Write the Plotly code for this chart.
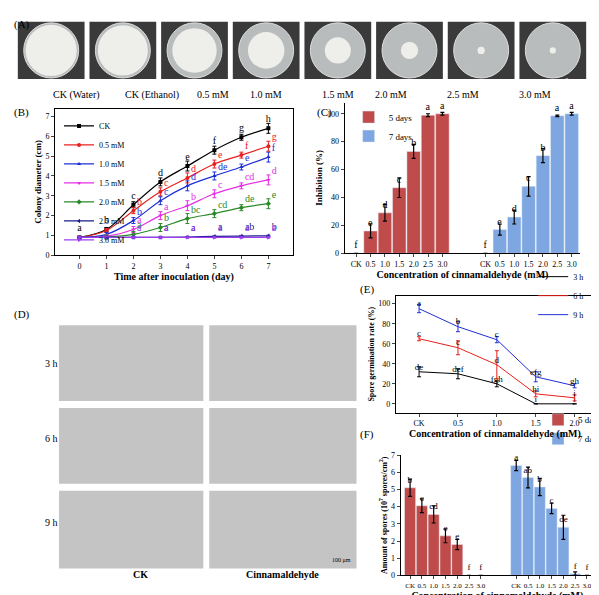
import plotly.graph_objects as go

W, H = 599, 595
FONT = "Liberation Serif"

# ---- data ----
days = [0, 1, 2, 3, 4, 5, 6, 7]
b_names = ["CK", "0.5 mM", "1.0 mM", "1.5 mM", "2.0 mM", "2.5 mM", "3.0 mM"]
b_ck = [0.9, 1.3, 2.55, 3.7, 4.5, 5.3, 5.95, 6.4]
b_05 = [0.9, 1.25, 2.25, 3.2, 3.9, 4.6, 5.05, 5.5]
b_10 = [0.9, 1.05, 1.75, 2.75, 3.5, 4.0, 4.45, 4.95]
b_15 = [0.9, 0.95, 1.3, 2.0, 2.5, 3.1, 3.5, 3.8]
b_20 = [0.9, 0.92, 1.05, 1.4, 1.85, 2.1, 2.4, 2.6]
b_25 = [0.9, 0.9, 0.9, 0.9, 0.92, 0.95, 0.97, 0.98]
b_30 = [0.9, 0.9, 0.9, 0.9, 0.9, 0.9, 0.9, 0.9]
b_err = [0.05, 0.1, 0.15, 0.2, 0.25, 0.2, 0.15, 0.25]
b_letters = [
    ["a", "b", "c", "d", "e", "f", "g", "h"],
    ["", "", "b", "c", "d", "e", "f", "g"],
    ["", "", "b", "c", "d", "de", "e", "f"],
    ["", "", "a", "a", "b", "c", "cd", "d"],
    ["", "", "a", "b", "bc", "cd", "de", "e"],
    ["", "", "", "a", "a", "a", "ab", "b"],
    ["", "", "a", "a", "a", "a", "a", "a"],
]
b_colors = ["black", "#e8201c", "#1f2fd6", "#e62ee6", "#2a8a2a", "#1a1a8c", "#9b3cf0"]
b_symbols = ["square", "circle", "triangle-up", "triangle-down", "diamond", "triangle-left", "triangle-right"]

c_labels = ["CK", "0.5", "1.0", "1.5", "2.0", "2.5", "3.0"]
c_5d = [0, 16, 29, 47, 73, 99, 100]
c_5d_err = [0, 5, 6, 7, 5, 1, 1]
c_7d = [0, 17, 26, 48, 70, 98.5, 100]
c_7d_err = [0, 4, 5, 7, 5, 0.5, 1]
c_letters = ["f", "e", "d", "c", "b", "a", "a"]

e_conc = [0, 0.5, 1.0, 1.5, 2.0]
e_3h = [32, 30, 20, 0, 0]
e_3h_err = [5, 5, 3, 0, 0]
e_6h = [65, 56, 39, 10, 6]
e_6h_err = [2, 7, 14, 3, 3]
e_9h = [95, 77, 64, 27, 18]
e_9h_err = [4, 5, 3, 5, 2]
e_l3 = ["de", "def", "fgh", "i", "i"]
e_l6 = ["c", "c", "d", "hi", "i"]
e_l9 = ["a", "b", "c", "efg", "gh"]

f_5d = [5.1, 4.05, 3.55, 2.3, 1.8, 0, 0]
f_5d_err = [0.5, 0.4, 0.5, 0.4, 0.3, 0, 0]
f_7d = [6.4, 5.7, 5.15, 3.9, 2.8, 0.1, 0]
f_7d_err = [0.3, 0.6, 0.5, 0.3, 0.7, 0.1, 0]
f_l5 = ["b", "c", "cd", "e", "e", "f", "f"]
f_l7 = ["a", "ab", "b", "c", "de", "f", "f"]

plate_labels = ["CK (Water)", "CK (Ethanol)", "0.5 mM", "1.0 mM", "1.5 mM", "2.0 mM", "2.5 mM", "3.0 mM"]

RED, BLUE = "#bf4b4b", "#7ea6e0"


def px(x0, x1):
    return [x0 / W, x1 / W]


def py(y0, y1):  # pixel top, bottom
    return [1 - y1 / H, 1 - y0 / H]


fig = go.Figure()
tf = dict(family=FONT, size=9, color="black")

# ---- B ----
for i, ys in enumerate([b_ck, b_05, b_10, b_15, b_20, b_25, b_30]):
    fig.add_trace(go.Scatter(
        x=days, y=ys, name=b_names[i], mode="lines+markers+text",
        line=dict(color=b_colors[i], width=1.2, shape="spline"),
        marker=dict(symbol=b_symbols[i], size=4, color=b_colors[i]),
        error_y=dict(array=b_err if i < 5 else [0.03] * 8, color=b_colors[i], thickness=1, width=2),
        text=b_letters[i], textposition="top right" if i else "top center",
        textfont=dict(family=FONT, size=10, color=b_colors[i]),
        xaxis="x", yaxis="y", legend="legend"))

# ---- C ----
xc5 = list(range(7))
xc7 = [v + 9 for v in range(7)]
fig.add_trace(go.Bar(x=xc5, y=c_5d, name="5 days", marker_color=RED,
                     error_y=dict(array=c_5d_err, color="black", thickness=1.2, width=2),
                     text=c_letters, textposition="outside", textfont=dict(family=FONT, size=10),
                     cliponaxis=False, xaxis="x2", yaxis="y2", legend="legend2"))
fig.add_trace(go.Bar(x=xc7, y=c_7d, name="7 days", marker_color=BLUE,
                     error_y=dict(array=c_7d_err, color="black", thickness=1.2, width=2),
                     text=c_letters, textposition="outside", textfont=dict(family=FONT, size=10),
                     cliponaxis=False, xaxis="x2", yaxis="y2", legend="legend2"))

# ---- E ----
for name, ys, er, lt, col, pos in [("3 h", e_3h, e_3h_err, e_l3, "black", "top center"),
                                    ("6 h", e_6h, e_6h_err, e_l6, "#e8201c", "top center"),
                                    ("9 h", e_9h, e_9h_err, e_l9, "#1f2fd6", "top center")]:
    fig.add_trace(go.Scatter(
        x=e_conc, y=ys, name=name, mode="lines+text",
        line=dict(color=col, width=1),
        error_y=dict(array=er, color=col, thickness=1, width=2),
        text=lt, textposition=pos, textfont=dict(family=FONT, size=9, color="black"),
        cliponaxis=False, xaxis="x3", yaxis="y3", legend="legend3"))

# ---- F ----
fig.add_trace(go.Bar(x=xc5, y=f_5d, name="5 days", marker_color=RED,
                     error_y=dict(array=f_5d_err, color="black", thickness=1.2, width=2),
                     text=f_l5, textposition="outside", textfont=dict(family=FONT, size=9),
                     cliponaxis=False, xaxis="x4", yaxis="y4", legend="legend4"))
fig.add_trace(go.Bar(x=xc7, y=f_7d, name="7 days", marker_color=BLUE,
                     error_y=dict(array=f_7d_err, color="black", thickness=1.2, width=2),
                     text=f_l7, textposition="outside", textfont=dict(family=FONT, size=9),
                     cliponaxis=False, xaxis="x4", yaxis="y4", legend="legend4"))

ax = dict(showline=True, linecolor="black", mirror=False, ticks="outside", ticklen=3,
          showgrid=False, zeroline=False, tickfont=dict(family=FONT, size=8, color="black"))
boxed = dict(ax, mirror=True)

shapes = []
annots = []

# ---- A: plate photos ----
cols = [0.98, 0.96, 0.85, 0.7, 0.5, 0.33, 0.14, 0.12]
for i, lab in enumerate(plate_labels):
    x0 = 10 + i * 73
    shapes.append(dict(type="rect", xref="paper", yref="paper", x0=x0 / W, x1=(x0 + 68) / W,
                       y0=1 - 68 / H, y1=1 - 10 / H, fillcolor="#3a3a3a", line_width=0))
    cx, cy, r = x0 + 34, 39, 28
    shapes.append(dict(type="circle", xref="paper", yref="paper", x0=(cx - r) / W, x1=(cx + r) / W,
                       y0=1 - (cy + r) / H, y1=1 - (cy - r) / H, fillcolor="#b8bcbc", line=dict(color="#dddddd", width=1)))
    rr = r * cols[i] * 0.95
    shapes.append(dict(type="circle", xref="paper", yref="paper", x0=(cx - rr) / W, x1=(cx + rr) / W,
                       y0=1 - (cy + rr) / H, y1=1 - (cy - rr) / H, fillcolor="#eeeeea", line_width=0))
    annots.append(dict(text=lab, x=(cx) / W, y=1 - 76 / H, xref="paper", yref="paper", showarrow=False,
                       font=dict(family=FONT, size=10, color="black")))
annots.append(dict(text="2cm", x=583 / W, y=1 - 63 / H, xref="paper", yref="paper", showarrow=False,
                   font=dict(family=FONT, size=7, color="white")))

# ---- D: micrographs ----
for r, (y0, y1) in enumerate([(318, 395), (402, 479), (486, 565)]):
    for x0, x1 in [(52, 199), (205, 355)]:
        shapes.append(dict(type="rect", xref="paper", yref="paper", x0=x0 / W, x1=x1 / W,
                           y0=1 - y1 / H, y1=1 - y0 / H, fillcolor="#c4c4c4", line_width=0))
    annots.append(dict(text=["3 h", "6 h", "9 h"][r], x=36 / W, y=1 - (y0 + y1) / 2 / H, xref="paper",
                       yref="paper", showarrow=False, font=dict(family=FONT, size=10, color="black")))
annots += [dict(text="<b>CK</b>", x=125 / W, y=1 - 579 / H, xref="paper", yref="paper", showarrow=False,
                font=dict(family=FONT, size=10, color="black")),
           dict(text="<b>Cinnamaldehyde</b>", x=280 / W, y=1 - 579 / H, xref="paper", yref="paper",
                showarrow=False, font=dict(family=FONT, size=10, color="black")),
           dict(text="100 μm", x=340 / W, y=1 - 561 / H, xref="paper", yref="paper", showarrow=False,
                font=dict(family=FONT, size=6, color="black"))]

for lab, x, y in [("(A)", 4, 4), ("(B)", 4, 93), ("(C)", 313, 93), ("(D)", 4, 307),
                  ("(E)", 357, 282), ("(F)", 357, 438)]:
    annots.append(dict(text=lab, x=x / W, y=1 - y / H, xref="paper", yref="paper", showarrow=False,
                       xanchor="left", font=dict(family=FONT, size=11, color="black")))

bold = lambda s: "<b>" + s + "</b>"
tt = dict(family=FONT, size=10, color="black")
tts = dict(family=FONT, size=9, color="black")

fig.update_layout(
    width=W, height=H, margin=dict(l=0, r=0, t=0, b=0),
    plot_bgcolor="white", paper_bgcolor="white", bargap=0.06, barmode="overlay",
    font=dict(family=FONT, color="black"),
    shapes=shapes, annotations=annots,
    xaxis=dict(boxed, domain=px(48, 290), range=[-0.9, 7.9], tickvals=days,
               title=dict(text=bold("Time after inoculation (day)"), font=tt, standoff=2), anchor="y"),
    yaxis=dict(boxed, domain=py(98, 247), range=[0, 7.4], dtick=1,
               title=dict(text=bold("Colony diameter (cm)"), font=tts, standoff=2), anchor="x"),
    xaxis2=dict(ax, domain=px(343, 583), range=[-0.8, 15.6], tickvals=xc5 + xc7,
                ticktext=c_labels + c_labels, tickangle=0,
                title=dict(text=bold("Concentration of cinnamaldehyde (mM)"), font=tt, standoff=2), anchor="y2"),
    yaxis2=dict(ax, domain=py(92, 245), range=[0, 108], tickvals=[0, 20, 40, 60, 80, 100],
                title=dict(text=bold("Inhibition (%)"), font=tts, standoff=2), anchor="x2"),
    xaxis3=dict(boxed, domain=px(395, 597), range=[-0.3, 2.25], tickvals=e_conc,
                ticktext=["CK", "0.5", "1.0", "1.5", "2.0"],
                title=dict(text=bold("Concentration of cinnamaldehyde (mM)"), font=tt, standoff=2), anchor="y3"),
    yaxis3=dict(boxed, domain=py(288, 407), range=[-9, 108], tickvals=[0, 20, 40, 60, 80, 100],
                title=dict(text=bold("Spore germination rate (%)"), font=dict(family=FONT, size=8), standoff=2),
                anchor="x3"),
    xaxis4=dict(ax, domain=px(400, 597), range=[-0.8, 15.6], tickvals=xc5 + xc7,
                ticktext=c_labels + c_labels, tickangle=0, tickfont=dict(family=FONT, size=7),
                title=dict(text=bold("Concentration of cinnamaldehyde (mM)"), font=tt, standoff=2), anchor="y4"),
    yaxis4=dict(ax, domain=py(450, 572), range=[0, 7], dtick=1,
                title=dict(text=bold("Amount of spores (10<sup>7</sup> spores/cm<sup>2</sup>)"),
                           font=dict(family=FONT, size=8), standoff=2), anchor="x4"),
    legend=dict(x=px(52, 0)[0], y=1 - 101 / H, bgcolor="rgba(0,0,0,0)", font=dict(family=FONT, size=8),
                tracegroupgap=0, itemwidth=30),
    legend2=dict(x=px(347, 0)[0], y=1 - 92 / H, bgcolor="rgba(0,0,0,0)", font=dict(family=FONT, size=9)),
    legend3=dict(x=px(535, 0)[0], y=1 - 288 / H, bgcolor="rgba(0,0,0,0)", font=dict(family=FONT, size=8)),
    legend4=dict(x=px(540, 0)[0], y=1 - 448 / H, bgcolor="rgba(0,0,0,0)", font=dict(family=FONT, size=9)),
)
for tr in fig.data:
    pass

fig.write_html("out.html")
